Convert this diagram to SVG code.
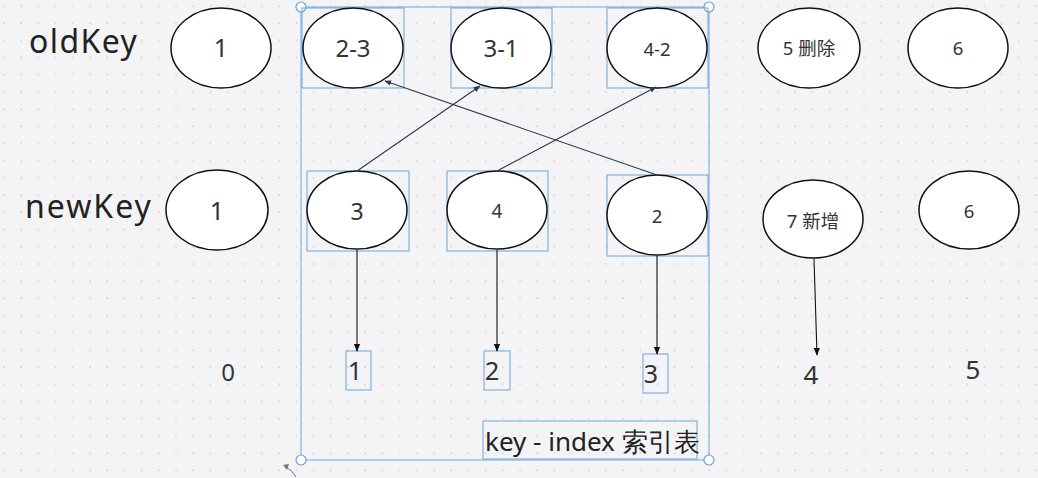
<svg xmlns="http://www.w3.org/2000/svg" width="1038" height="478" viewBox="0 0 1038 478">
<defs>
<pattern id="dots" x="0" y="0" width="17.2" height="17.2" patternUnits="userSpaceOnUse">
<circle cx="4" cy="6" r="0.9" fill="#cfd1d6"/>
</pattern>
<marker id="ah" viewBox="0 0 10 10" refX="9" refY="5" markerWidth="7" markerHeight="7" orient="auto-start-reverse" markerUnits="userSpaceOnUse">
<path d="M0,1 L10,5 L0,9 z" fill="#2b3a50"/>
</marker>
<marker id="ahb" viewBox="0 0 10 10" refX="9" refY="5" markerWidth="8" markerHeight="8" orient="auto-start-reverse" markerUnits="userSpaceOnUse">
<path d="M0,1 L10,5 L0,9 z" fill="#111"/>
</marker>
</defs>
<style>
.nd{fill:#fff;stroke:#111;stroke-width:1.5}
.t{font-family:"Noto Sans","Open Sans","Noto Sans CJK SC",sans-serif;fill:#333;text-anchor:middle}
.lbl{font-family:"Noto Sans","Open Sans",sans-serif;fill:#222}
.sel{fill:none;stroke:#6aa5dc;stroke-width:1}
.hdl{fill:#fff;stroke:#6aa5dc;stroke-width:1.2}
.c{stroke:#2b3a50;stroke-width:1.1;fill:none}
.v{stroke:#111;stroke-width:1.1;fill:none}
</style>
<rect width="1038" height="478" fill="#f4f4f6"/>
<rect width="1038" height="478" fill="url(#dots)"/>

<text class="lbl" x="29" y="53" font-size="32" letter-spacing="1.4">oldKey</text>
<text class="lbl" x="25" y="218" font-size="32" letter-spacing="2">newKey</text>

<g id="selection">
<rect class="sel" x="301" y="7" width="408" height="453"/>
<circle class="hdl" cx="301" cy="7" r="5"/>
<circle class="hdl" cx="709" cy="7" r="5"/>
<circle class="hdl" cx="301" cy="460" r="5"/>
<circle class="hdl" cx="709" cy="460" r="5"/>
<path d="M296,477 Q292,470 286,467" fill="none" stroke="#777" stroke-width="1"/>
<path d="M283,465 L289,464 L287,470 z" fill="#777"/>
</g>

<g id="old1"><ellipse class="nd" cx="221" cy="48" rx="50" ry="40"/><text class="t" x="221" y="57" font-size="25">1</text></g>
<g id="old23"><rect class="sel" x="302" y="8" width="102" height="80"/><ellipse class="nd" cx="353" cy="48" rx="50" ry="40"/><text class="t" x="353" y="57" font-size="24">2-3</text></g>
<g id="old31"><rect class="sel" x="451" y="8" width="101" height="80"/><ellipse class="nd" cx="501" cy="48" rx="50" ry="40"/><text class="t" x="501" y="57" font-size="24">3-1</text></g>
<g id="old42"><rect class="sel" x="607" y="8" width="101" height="80"/><ellipse class="nd" cx="657" cy="48" rx="50" ry="40"/><text class="t" x="657" y="56" font-size="18.5">4-2</text></g>
<g id="old5"><ellipse class="nd" cx="809" cy="48" rx="51" ry="40"/><text class="t" x="809" y="55" font-size="18.5">5 删除</text></g>
<g id="old6"><ellipse class="nd" cx="958" cy="48" rx="50" ry="40"/><text class="t" x="958" y="55" font-size="18.5">6</text></g>

<g id="new1"><ellipse class="nd" cx="217" cy="210" rx="51" ry="40"/><text class="t" x="217" y="220" font-size="25">1</text></g>
<g id="new3"><rect class="sel" x="307" y="171" width="102" height="80"/><ellipse class="nd" cx="357" cy="210" rx="50" ry="39"/><text class="t" x="357" y="220" font-size="23">3</text></g>
<g id="new4"><rect class="sel" x="447" y="171" width="101" height="80"/><ellipse class="nd" cx="497" cy="210" rx="50" ry="39"/><text class="t" x="497" y="218" font-size="19">4</text></g>
<g id="new2"><rect class="sel" x="607" y="175" width="101" height="81"/><ellipse class="nd" cx="657" cy="215" rx="50" ry="40"/><text class="t" x="657" y="223" font-size="18.5">2</text></g>
<g id="new7"><ellipse class="nd" cx="813" cy="219" rx="50" ry="39"/><text class="t" x="813" y="228" font-size="18.5">7 新增</text></g>
<g id="new6"><ellipse class="nd" cx="969" cy="210" rx="50" ry="39"/><text class="t" x="969" y="218" font-size="18.5">6</text></g>

<g id="idx0"><text class="t" x="228" y="381" font-size="24">0</text></g>
<g id="idx1"><rect class="sel" x="346" y="351" width="25" height="39"/><text class="t" x="355" y="380" font-size="25.5">1</text></g>
<g id="idx2"><rect class="sel" x="484" y="351" width="26" height="39"/><text class="t" x="492" y="380" font-size="25.5">2</text></g>
<g id="idx3"><rect class="sel" x="643" y="354" width="25" height="39"/><text class="t" x="651" y="383" font-size="25">3</text></g>
<g id="idx4"><text class="t" x="811" y="384" font-size="26">4</text></g>
<g id="idx5"><text class="t" x="973" y="379" font-size="26">5</text></g>
<g id="table"><rect class="sel" x="483" y="421" width="214" height="38"/><text class="lbl" x="485" y="451" font-size="26" font-family="Noto Sans, Noto Sans CJK SC, sans-serif">key - index 索引表</text></g>

<g id="connectors">
<line class="c" x1="357" y1="171" x2="480" y2="86" marker-end="url(#ah)"/>
<line class="c" x1="497" y1="171" x2="656" y2="87" marker-end="url(#ah)"/>
<line class="c" x1="657" y1="175" x2="385" y2="81" marker-end="url(#ah)"/>
<line class="v" x1="357" y1="250" x2="357" y2="351" marker-end="url(#ahb)"/>
<line class="v" x1="497" y1="250" x2="497" y2="351" marker-end="url(#ahb)"/>
<line class="v" x1="657" y1="256" x2="657" y2="354" marker-end="url(#ahb)"/>
<line class="v" x1="814" y1="259" x2="817" y2="355" marker-end="url(#ahb)"/>
</g>
</svg>
